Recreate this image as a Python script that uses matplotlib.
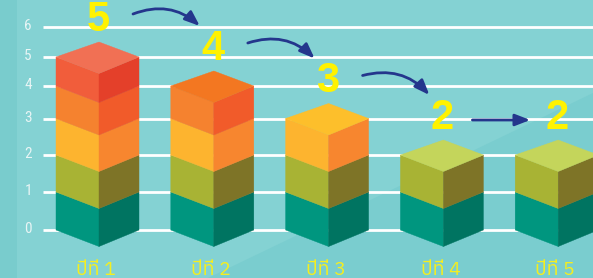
import numpy as np
import matplotlib
matplotlib.use("Agg")
import matplotlib.pyplot as plt
from matplotlib.patches import Polygon, Rectangle
from matplotlib.transforms import IdentityTransform

# ── data ─────────────────────────────────────────────
years = ['ปีที่ 1', 'ปีที่ 2', 'ปีที่ 3', 'ปีที่ 4', 'ปีที่ 5']
values = [5, 4, 3, 2, 2]
y_ticks = [0, 1, 2, 3, 4, 5, 6]

# colours of each stacked level (bottom -> top): left face, right face, top face
left_cols = ['#00967f', '#a8b334', '#fdb42f', '#f5822f', '#f15d3b']
right_cols = ['#007461', '#7e7427', '#f7862f', '#f15b2a', '#e4402a']
top_cols = ['#00a98f', '#c4d55b', '#fdbf2b', '#f37721', '#f17054']

# the picture uses a slightly "perspective" value axis: the steps shrink upward
axis_lv = [-2, 0, 1, 2, 3, 4, 5, 6, 8]
axis_px = [-28, 48, 86, 123, 159.5, 192, 221, 251, 311]


def fwd(v):
    return np.interp(v, axis_lv, axis_px)


def inv(p):
    return np.interp(p, axis_px, axis_lv)


W, H = 593, 278
fig = plt.figure(figsize=(W / 100, H / 100), dpi=100)
fig.patch.set_facecolor('#84d2d3')
ax = fig.add_axes([0, 0, 1, 1])
ax.set_facecolor('#84d2d3')
ax.set_yscale('function', functions=(fwd, inv))
step = 114.8
ax.set_xlim(-99 / step, (W - 99) / step)
ax.set_ylim(inv(0), inv(H))
ax.axis('off')

# background: darker strip on the left and a darker diagonal corner
ax.add_patch(Rectangle((0, 0), 17, H, transform=IdentityTransform(),
                       facecolor='#79cccd', edgecolor='none', zorder=0))
ax.add_patch(Polygon([(208, 0), (W, 0), (W, 185)], closed=True,
                     transform=IdentityTransform(), facecolor='#7acdcf',
                     edgecolor='none', zorder=0))

# grid lines + tick labels
for t in y_ticks:
    ax.plot([-56 / step, ax.get_xlim()[1]], [t, t], color='white', lw=2.0,
            solid_capstyle='butt', zorder=1)
    ax.annotate(str(t), (-56 / step, t), xytext=(-15, 1), textcoords='offset pixels',
                ha='center', va='center', color='#e8f5f5', fontsize=11,
                family=['Roboto Condensed', 'Archivo Narrow', 'DejaVu Sans'])

to_px = ax.transData.transform
hl, hr, d, back = 43, 40, 16.5, 15


def poly(pts, col):
    ax.add_patch(Polygon(pts, closed=True, transform=IdentityTransform(),
                         facecolor=col, edgecolor=col, lw=0.3, zorder=3))


num_pos = []
for i, v in enumerate(values):
    for j in range(v):
        cx, yb = to_px((i, j))
        _, yt = to_px((i, j + 1))
        poly([(cx - hl, yb), (cx, yb - d), (cx, yt - d), (cx - hl, yt)], left_cols[j])
        poly([(cx, yb - d), (cx + hr, yb), (cx + hr, yt), (cx, yt - d)], right_cols[j])
    cx, yt = to_px((i, v))
    poly([(cx - hl, yt), (cx, yt + back), (cx + hr, yt), (cx, yt - d)], top_cols[v - 1])
    ax.annotate(str(v), (i, v), xytext=(-1, 37), textcoords='offset pixels',
                ha='center', va='center', color='#fff200', fontsize=30,
                fontweight='bold', family=['Liberation Sans', 'DejaVu Sans'], zorder=5)
    num_pos.append((cx - 1, yt + 37))
    ax.annotate(years[i], (i, 0), xytext=(-3, -40), textcoords='offset pixels',
                ha='center', va='center', color='#f5ee1f', fontsize=14,
                family=['Anuphan', 'DejaVu Sans'], zorder=5)

# arrows between the numbers
for i in range(len(values) - 1):
    (xa, ya), (xb, yb) = num_pos[i], num_pos[i + 1]
    if values[i] == values[i + 1]:
        start, end, rad = (xa + 30, ya - 2), (xb - 27, yb - 2), 0.0
    else:
        start, end, rad = (xa + 35, ya + 6), (xb - 13, yb + 23), -0.3
    ax.annotate('', xy=end, xytext=start, xycoords=IdentityTransform(),
                textcoords=IdentityTransform(),
                arrowprops=dict(arrowstyle='-|>,head_length=0.9,head_width=0.35',
                                color='#24368c', lw=2.0, shrinkA=0, shrinkB=0,
                                connectionstyle=f'arc3,rad={rad}'), zorder=6)

fig.savefig('out.png', dpi=100, facecolor=fig.get_facecolor())
